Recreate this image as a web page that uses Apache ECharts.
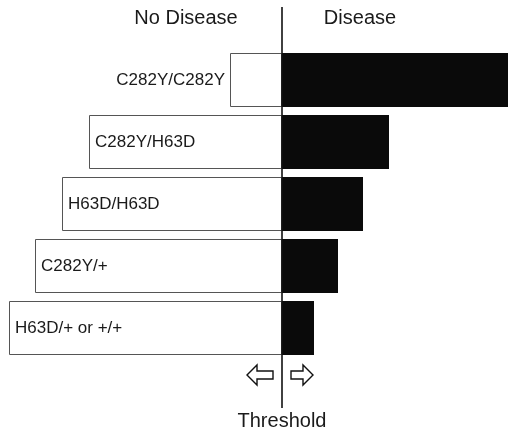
<!DOCTYPE html>
<html>
<head>
<meta charset="utf-8">
<script src="https://cdn.jsdelivr.net/npm/echarts@6/dist/echarts.min.js"></script>
<style>html,body{margin:0;padding:0;background:#fff;}#c{width:517px;height:433px;}</style>
</head>
<body>
<div id="c"></div>
<script>
var categories = ['C282Y/C282Y', 'C282Y/H63D', 'H63D/H63D', 'C282Y/+', 'H63D/+ or +/+'];
var noDisease = [-52, -193, -220, -247, -273];
var disease = [226, 107, 81, 56, 32];
var sideLabels = ['No Disease', 'Disease'];
var thresholdLabel = 'Threshold';

var FONT = '"Liberation Sans", Arial, Helvetica, sans-serif';
var chart = echarts.init(document.getElementById('c'), null, {renderer: 'canvas'});

var whiteData = noDisease.map(function (v, i) {
  var item = {value: v};
  if (i === 0) {
    item.label = {position: 'left', distance: 5};
  }
  return item;
});

chart.setOption({
  animation: false,
  backgroundColor: '#fff',
  grid: {left: 2, right: 5, top: 49, bottom: 74, containLabel: false},
  xAxis: {type: 'value', min: -280, max: 230, show: false},
  yAxis: {type: 'category', data: categories, inverse: true, show: false},
  series: [
    {
      type: 'bar',
      data: whiteData,
      barWidth: 54,
      barGap: '-100%',
      itemStyle: {color: '#fff', borderColor: '#555', borderWidth: 1},
      label: {
        show: true,
        position: 'insideLeft',
        distance: 6,
        formatter: function (p) { return categories[p.dataIndex]; },
        color: '#1a1a1a',
        fontSize: 17,
        fontFamily: FONT
      },
      z: 2
    },
    {
      type: 'bar',
      data: disease,
      barWidth: 54,
      barGap: '-100%',
      itemStyle: {color: '#0a0a0a'},
      z: 3
    }
  ]
});

var x0 = chart.convertToPixel({xAxisIndex: 0}, 0);
var ay = 375;
function leftArrow(tip, tail) {
  return [[tip, ay], [tip + 10, ay - 10], [tip + 10, ay - 4], [tail, ay - 4], [tail, ay + 4], [tip + 10, ay + 4], [tip + 10, ay + 10]];
}
function rightArrow(tail, tip) {
  return [[tip, ay], [tip - 10, ay - 10], [tip - 10, ay - 4], [tail, ay - 4], [tail, ay + 4], [tip - 10, ay + 4], [tip - 10, ay + 10]];
}

chart.setOption({
  graphic: [
    {type: 'line', shape: {x1: x0, y1: 7, x2: x0, y2: 408}, style: {stroke: '#111', lineWidth: 1.6}, z: 10},
    {type: 'polygon', shape: {points: leftArrow(x0 - 35, x0 - 9)}, style: {fill: '#fff', stroke: '#111', lineWidth: 1.4}, z: 10},
    {type: 'polygon', shape: {points: rightArrow(x0 + 9, x0 + 31)}, style: {fill: '#fff', stroke: '#111', lineWidth: 1.4}, z: 10},
    {type: 'text', x: x0 - 96, y: 18, style: {text: sideLabels[0], fill: '#1a1a1a', font: '20px ' + FONT, textAlign: 'center', textVerticalAlign: 'middle'}, z: 10},
    {type: 'text', x: x0 + 78, y: 18, style: {text: sideLabels[1], fill: '#1a1a1a', font: '20px ' + FONT, textAlign: 'center', textVerticalAlign: 'middle'}, z: 10},
    {type: 'text', x: x0, y: 421, style: {text: thresholdLabel, fill: '#1a1a1a', font: '20px ' + FONT, textAlign: 'center', textVerticalAlign: 'middle'}, z: 10}
  ]
});
</script>
</body>
</html>
